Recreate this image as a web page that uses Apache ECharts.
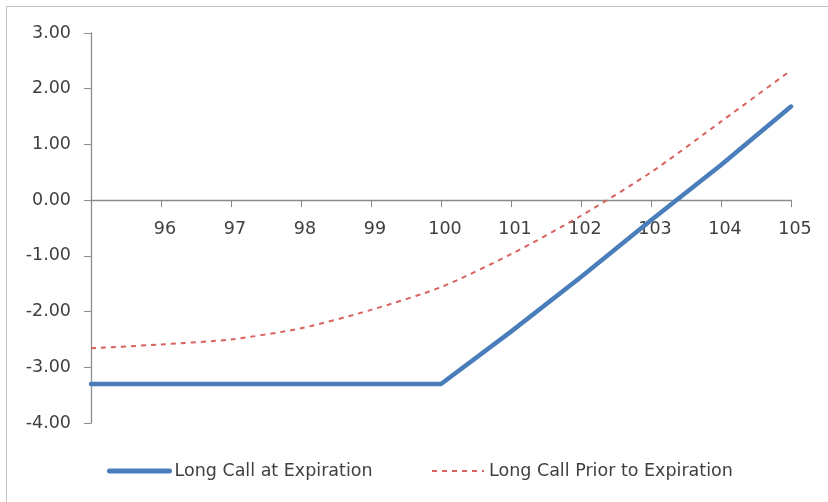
<!DOCTYPE html>
<html>
<head>
<meta charset="utf-8">
<script src="https://cdn.jsdelivr.net/npm/echarts@6/dist/echarts.min.js"></script>
<style>
  html, body { margin: 0; padding: 0; background: #fff; overflow: hidden; }
  #frame { position: absolute; left: 6px; top: 6px; right: 0; bottom: 0;
           border-left: 1.5px solid #c4c4c4; border-top: 1.5px solid #c4c4c4; }
  #chart { position: absolute; left: 0; top: 0; width: 828px; height: 502px; }
</style>
</head>
<body>
<div id="frame"></div>
<div id="chart"></div>
<script>
// Underlying price at expiration (x) and profit/loss (y)
const expPrices = [95, 96, 97, 98, 99, 100, 101, 102, 103, 104, 105];
const expPayoff = [-3.30, -3.30, -3.30, -3.30, -3.30, -3.30, -2.36, -1.38, -0.36, 0.63, 1.68];

const priorPrices = [95, 96, 97, 98, 99, 100, 101, 102, 103, 104, 105];
const priorPayoff = [-2.66, -2.59, -2.50, -2.30, -1.97, -1.56, -0.97, -0.28, 0.50, 1.41, 2.33];

const seriesNames = ['Long Call at Expiration', 'Long Call Prior to Expiration'];

const FONT = 'DejaVu Sans';
const FS = 17.5;
const TXT = '#404040';
const AXIS = '#8c8c8c';
const BLUE = '#4a7ebb';
const RED = '#d9625e';

// plot area and value ranges
const GRID = { left: 91, right: 37, top: 33, bottom: 79 };
const H = 502;
const Y_MIN = -4, Y_MAX = 3;

// the price axis sits on the zero line: shift it up from the bottom of the grid
const plotH = H - GRID.top - GRID.bottom;
const zeroOffset = -plotH * (0 - Y_MIN) / (Y_MAX - Y_MIN);

const chart = echarts.init(document.getElementById('chart'), null, { renderer: 'canvas' });

chart.setOption({
  animation: false,
  backgroundColor: 'transparent',
  grid: Object.assign({ containLabel: false }, GRID),
  xAxis: {
    type: 'value',
    position: 'bottom',
    offset: zeroOffset,
    min: 95, max: 105, interval: 1,
    axisLine: { onZero: false, lineStyle: { color: AXIS, width: 1.3 } },
    axisTick: { show: true, length: 7, lineStyle: { color: AXIS } },
    splitLine: { show: false },
    axisLabel: {
      showMinLabel: false,
      margin: 20,
      color: TXT, fontFamily: FONT, fontSize: FS,
      padding: [0, 0, 0, 8]
    }
  },
  yAxis: {
    type: 'value',
    min: Y_MIN, max: Y_MAX, interval: 1,
    axisLine: { show: true, lineStyle: { color: AXIS, width: 1.3 } },
    axisTick: { show: true, length: 7, lineStyle: { color: AXIS } },
    splitLine: { show: false },
    axisLabel: {
      margin: 20,
      color: TXT, fontFamily: FONT, fontSize: FS,
      formatter: v => v.toFixed(2)
    }
  },
  legend: [
    {
      data: [seriesNames[0]],
      left: 102, top: 457,
      itemWidth: 60, itemHeight: 14,
      itemStyle: { opacity: 0 },
      lineStyle: { width: 5, color: BLUE, cap: 'round' },
      textStyle: { color: TXT, fontFamily: FONT, fontSize: FS }
    },
    {
      data: [seriesNames[1]],
      left: 426, top: 457,
      itemWidth: 52, itemHeight: 14,
      itemStyle: { opacity: 0 },
      lineStyle: { width: 2, color: RED, type: [5, 5] },
      textStyle: { color: TXT, fontFamily: FONT, fontSize: FS }
    }
  ],
  series: [
    {
      name: seriesNames[0],
      type: 'line',
      data: expPrices.map((x, i) => [x, expPayoff[i]]),
      symbol: 'none',
      lineStyle: { color: BLUE, width: 4.5, cap: 'round', join: 'round' },
      itemStyle: { color: BLUE },
      z: 3
    },
    {
      name: seriesNames[1],
      type: 'line',
      data: priorPrices.map((x, i) => [x, priorPayoff[i]]),
      symbol: 'none',
      smooth: 0.25,
      lineStyle: { color: RED, width: 2, type: [5, 5] },
      itemStyle: { color: RED },
      z: 2
    }
  ]
});
</script>
</body>
</html>
